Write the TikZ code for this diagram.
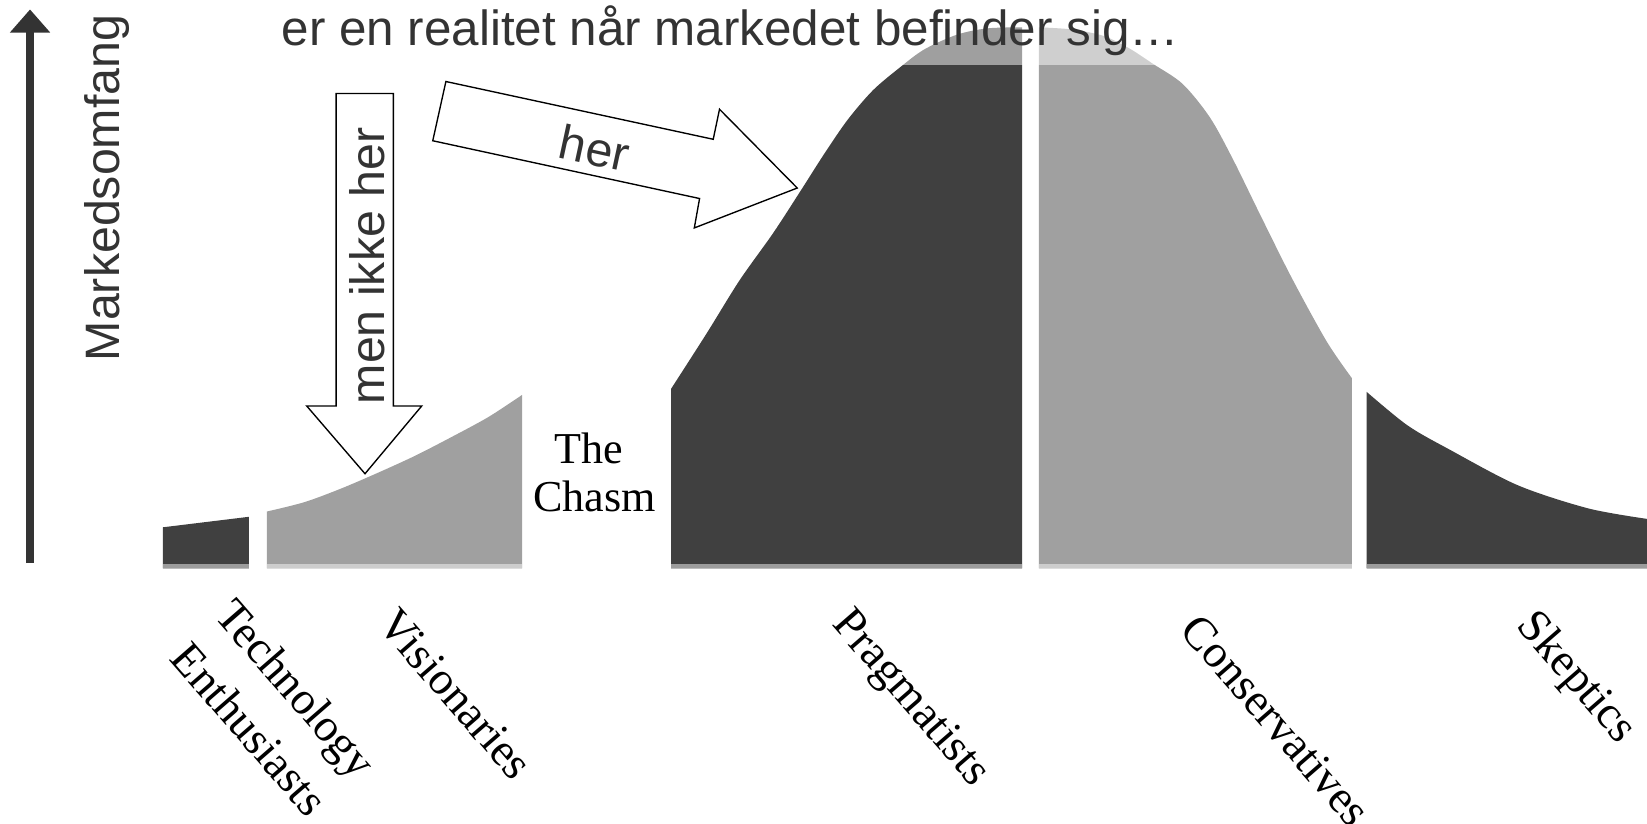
\documentclass[tikz,border=0pt]{standalone}
\usepackage{fontspec}
\setmainfont{Liberation Serif}
\newfontfamily\arialf{Liberation Sans}
\usetikzlibrary{arrows.meta}
\definecolor{darkbar}{HTML}{404040}
\definecolor{lightbar}{HTML}{A0A0A0}
\definecolor{darkstrip}{HTML}{9C9C9C}
\definecolor{lightstrip}{HTML}{CDCDCD}
\definecolor{txtgray}{HTML}{333333}
\begin{document}
\begin{tikzpicture}[x=1pt,y=-1pt,
  sanslabel/.style={font=\arialf\fontsize{46}{55}\selectfont, text=txtgray, inner sep=0pt},
  seriflabel/.style={font=\fontsize{44}{50}\selectfont, text=black, inner sep=0pt, rotate=-49},
  chasmtext/.style={font=\fontsize{42}{46}\selectfont, text=black, inner sep=0pt, anchor=base},
  blockarrow/.style={draw=black, line width=1.3pt, fill=white, line join=miter},
  darkseg/.style={fill=darkbar},
  lightseg/.style={fill=lightbar}]
\useasboundingbox (0,0) rectangle (1568,784);

% segments of the curve
\fill[darkseg] (155,541) -- (155,502) -- (237,492) -- (237,541) -- cycle;
\fill[lightseg] (254,541) -- plot[smooth] coordinates {(254,487) (290,478) (325,465) (360,450) (395,434) (430,416) (465,397) (497,376)} -- (497,541) -- cycle;
\fill[darkseg] (639,541) -- plot[smooth] coordinates {(639,370) (673,317) (704,267) (736,222) (762,182) (785,146) (807,114) (831,86) (857,64) (880,47) (911,33) (940,27) (973,26)} -- (973,541) -- cycle;
\fill[lightseg] (989,541) -- plot[smooth] coordinates {(989,26) (1020,28) (1050,34) (1075,46) (1098,61) (1126,80) (1152,112) (1174,152) (1200,205) (1230,265) (1263,325) (1287,360)} -- (1287,541) -- cycle;
\fill[darkseg] (1301,541) -- plot[smooth] coordinates {(1301,373) (1340,405) (1380,428) (1445,462) (1512,484) (1568,494)} -- (1568,541) -- cycle;

% bottom strips
\fill[darkstrip] (155,537) rectangle (237,541);
\fill[lightstrip] (254,537) rectangle (497,541);
\fill[darkstrip] (639,537) rectangle (973,541);
\fill[lightstrip] (989,537) rectangle (1287,541);
\fill[darkstrip] (1301,537) rectangle (1568,541);

% light overlay behind the title
\fill[white, fill opacity=0.5] (255,0) rectangle (1125,62);

% title
\node[sanslabel, font=\arialf\fontsize{47}{55}\selectfont, anchor=base west] (title) at (268,43) {er en realitet når markedet befinder sig…};

% vertical axis
\coordinate (axb) at (28.6,536);
\coordinate (axt) at (28.6,9);
\draw[line width=7pt, txtgray, -{Triangle[width=37pt,length=22pt]}] (axb) -- (axt);
\node[sanslabel, rotate=90, anchor=base west] (ylab) at (114,344) {Markedsomfang};

% arrow "men ikke her"
\coordinate (d1) at (320,89);
\coordinate (d2) at (374.5,89);
\coordinate (d3) at (374.5,386.5);
\coordinate (d4) at (401.5,386.5);
\coordinate (dtip) at (347.5,451);
\coordinate (d6) at (292,386.5);
\coordinate (d7) at (320,386.5);
\draw[blockarrow] (d1) -- (d2) -- (d3) -- (d4) -- (dtip) -- (d6) -- (d7) -- cycle;
\node[sanslabel, rotate=90, anchor=base west] (mih) at (366,385) {men ikke her};

% arrow "her"
\coordinate (h1) at (424.5,77.6);
\coordinate (h2) at (679,132.6);
\coordinate (h3) at (685,104);
\coordinate (htip) at (759,179);
\coordinate (h5) at (661,217);
\coordinate (h6) at (666,189);
\coordinate (h7) at (412,134);
\draw[blockarrow] (h1) -- (h2) -- (h3) -- (htip) -- (h5) -- (h6) -- (h7) -- cycle;
\node[sanslabel, rotate=-12.2] (her) at (566,141) {her};

% the chasm
\node[chasmtext] (the) at (561,441) {The};
\node[chasmtext] (chasm) at (566,487) {Chasm};

% group labels
\node[seriflabel] (tech) at (279,658) {Technology};
\node[seriflabel] (enth) at (238,694) {Enthusiasts};
\node[seriflabel] (vis) at (434,661) {Visionaries};
\node[seriflabel] (prag) at (866,666) {Pragmatists};
\node[seriflabel] (cons) at (1215,686) {Conservatives};
\node[seriflabel] (skep) at (1500,646) {Skeptics};
\end{tikzpicture}
\end{document}
